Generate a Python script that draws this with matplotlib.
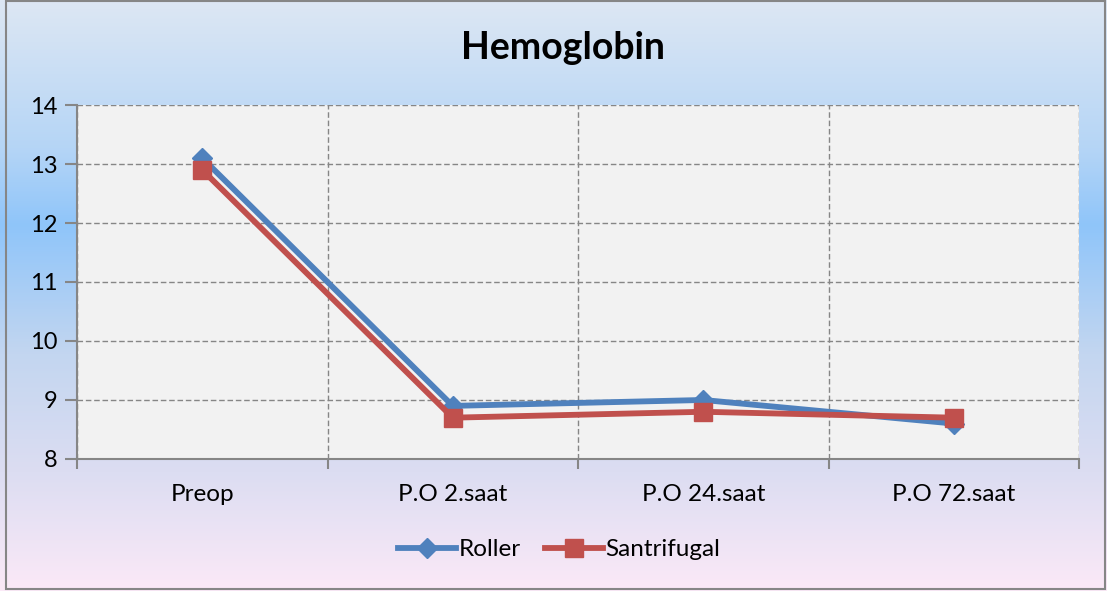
import matplotlib
matplotlib.use("Agg")
import matplotlib.pyplot as plt
import numpy as np
from matplotlib.colors import LinearSegmentedColormap
from matplotlib.patches import Rectangle

categories = ["Preop", "P.O 2.saat", "P.O 24.saat", "P.O 72.saat"]
roller = [13.1, 8.9, 9.0, 8.6]
santrifugal = [12.9, 8.7, 8.8, 8.7]
yticks = [8, 9, 10, 11, 12, 13, 14]

plt.rcParams['font.family'] = ['Lato', 'DejaVu Sans']

fig = plt.figure(figsize=(11.07, 5.91), dpi=100)

# background gradient
bg = fig.add_axes([0, 0, 1, 1], zorder=-10)
cmap = LinearSegmentedColormap.from_list("bg", [
    (0.0, "#DDE7F3"), (0.25, "#B5D5F6"), (0.38, "#8FC5FA"),
    (0.6, "#C3D6F0"), (0.8, "#DCDDF2"), (1.0, "#FBE9F7")])
grad = np.linspace(0, 1, 256).reshape(-1, 1)
bg.imshow(grad, aspect="auto", cmap=cmap, extent=[0, 1, 0, 1], origin="upper")
bg.set_xlim(0, 1); bg.set_ylim(0, 1)
bg.axis("off")
bg.add_patch(Rectangle((0.005, 0.004), 0.993, 0.994, fill=False,
                       edgecolor="#868686", linewidth=1.5, transform=bg.transAxes))

ax = fig.add_axes([0.0696, 0.2234, 0.9051, 0.5989])
ax.set_facecolor("#F2F2F2")
x = np.arange(1, len(categories) + 1)

ax.plot(x, roller, color="#4F81BD", linewidth=4.2, marker="D", markersize=10,
        markeredgecolor="#4F81BD", label="Roller", zorder=3)
ax.plot(x, santrifugal, color="#C0504D", linewidth=4.2, marker="s", markersize=13,
        markeredgecolor="#C0504D", label="Santrifugal", zorder=4)

ax.set_xlim(0.5, len(categories) + 0.5)
ax.set_ylim(8, 14)
ax.set_yticks(yticks)
ax.set_xticks(np.arange(0.5, len(categories) + 1, 1))
ax.set_xticklabels([])
ax.set_xticks(x, minor=True)
ax.set_xticklabels(categories, minor=True)
ax.tick_params(axis="x", which="minor", length=0, pad=18, labelsize=17.5)
ax.tick_params(axis="x", which="major", length=7, color="#868686", width=1.5, direction="out")
ax.tick_params(axis="y", length=9, color="#868686", width=1.5, labelsize=17, pad=5)
ax.grid(True, which="major", linestyle=(0, (4, 2)), color="#868686", linewidth=1)
for s in ["top", "right"]:
    ax.spines[s].set_visible(False)
for s in ["left", "bottom"]:
    ax.spines[s].set_color("#868686")
    ax.spines[s].set_linewidth(1.5)
ax.set_axisbelow(True)

fig.text(0.509, 0.918, "Hemoglobin", ha="center", va="center", fontsize=27, fontweight="bold")

fig.legend(loc="center", bbox_to_anchor=(0.505, 0.07), ncol=2, frameon=False,
           fontsize=17.5, handlelength=2.4, handletextpad=0.1, columnspacing=1.0)

fig.savefig("out.png", dpi=100)
